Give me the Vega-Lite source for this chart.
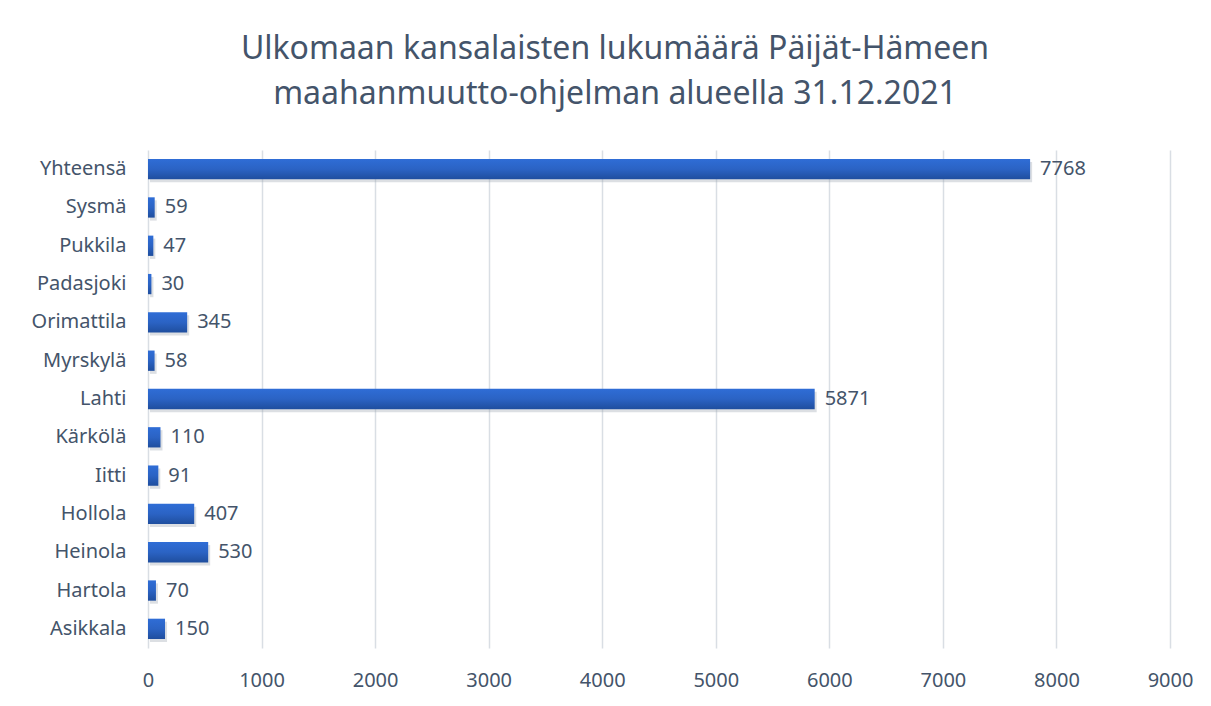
{
  "$schema": "https://vega.github.io/schema/vega-lite/v6.json",
  "autosize": "none",
  "width": 1022,
  "height": 498,
  "padding": {"left": 148, "top": 150, "right": 41, "bottom": 58},
  "background": "white",
  "config": {
    "font": "Noto Sans",
    "view": {"stroke": null}
  },
  "title": {
    "text": ["Ulkomaan kansalaisten lukumäärä Päijät-Hämeen", "maahanmuutto-ohjelman alueella 31.12.2021"],
    "fontSize": 32,
    "fontWeight": "normal",
    "color": "#44546A",
    "lineHeight": 45,
    "anchor": "middle",
    "dx": -44,
    "offset": 39
  },
  "data": {
    "values": [
      {"kunta": "Yhteensä", "lkm": 7768},
      {"kunta": "Sysmä", "lkm": 59},
      {"kunta": "Pukkila", "lkm": 47},
      {"kunta": "Padasjoki", "lkm": 30},
      {"kunta": "Orimattila", "lkm": 345},
      {"kunta": "Myrskylä", "lkm": 58},
      {"kunta": "Lahti", "lkm": 5871},
      {"kunta": "Kärkölä", "lkm": 110},
      {"kunta": "Iitti", "lkm": 91},
      {"kunta": "Hollola", "lkm": 407},
      {"kunta": "Heinola", "lkm": 530},
      {"kunta": "Hartola", "lkm": 70},
      {"kunta": "Asikkala", "lkm": 150}
    ]
  },
  "encoding": {
    "y": {
      "field": "kunta",
      "type": "nominal",
      "sort": null,
      "title": null,
      "scale": {"paddingInner": 0.47, "paddingOuter": 0.235},
      "axis": {
        "domain": false,
        "ticks": false,
        "labelFontSize": 20,
        "labelColor": "#44546A",
        "labelPadding": 22
      }
    },
    "x": {
      "field": "lkm",
      "type": "quantitative",
      "title": null,
      "scale": {"domain": [0, 9000], "nice": false},
      "axis": {
        "values": [0, 1000, 2000, 3000, 4000, 5000, 6000, 7000, 8000, 9000],
        "domain": false,
        "ticks": false,
        "grid": true,
        "gridColor": "#D9DEE4",
        "gridWidth": 1.5,
        "labelFontSize": 20,
        "labelColor": "#44546A",
        "labelPadding": 22,
        "labelFlush": false,
        "format": "d"
      }
    }
  },
  "layer": [
    {
      "mark": {"type": "bar", "color": "#9AA3B0", "opacity": 0.35, "yOffset": 3, "xOffset": 2}
    },
    {
      "mark": {
        "type": "bar",
        "color": {
          "gradient": "linear",
          "x1": 0, "y1": 0, "x2": 0, "y2": 1,
          "stops": [
            {"offset": 0, "color": "#2F6DD6"},
            {"offset": 0.5, "color": "#2B63C4"},
            {"offset": 1, "color": "#1F4E9E"}
          ]
        }
      }
    },
    {
      "mark": {"type": "text", "align": "left", "baseline": "middle", "dx": 10, "fontSize": 20, "color": "#44546A"},
      "encoding": {"text": {"field": "lkm", "type": "quantitative", "format": "d"}}
    }
  ]
}
